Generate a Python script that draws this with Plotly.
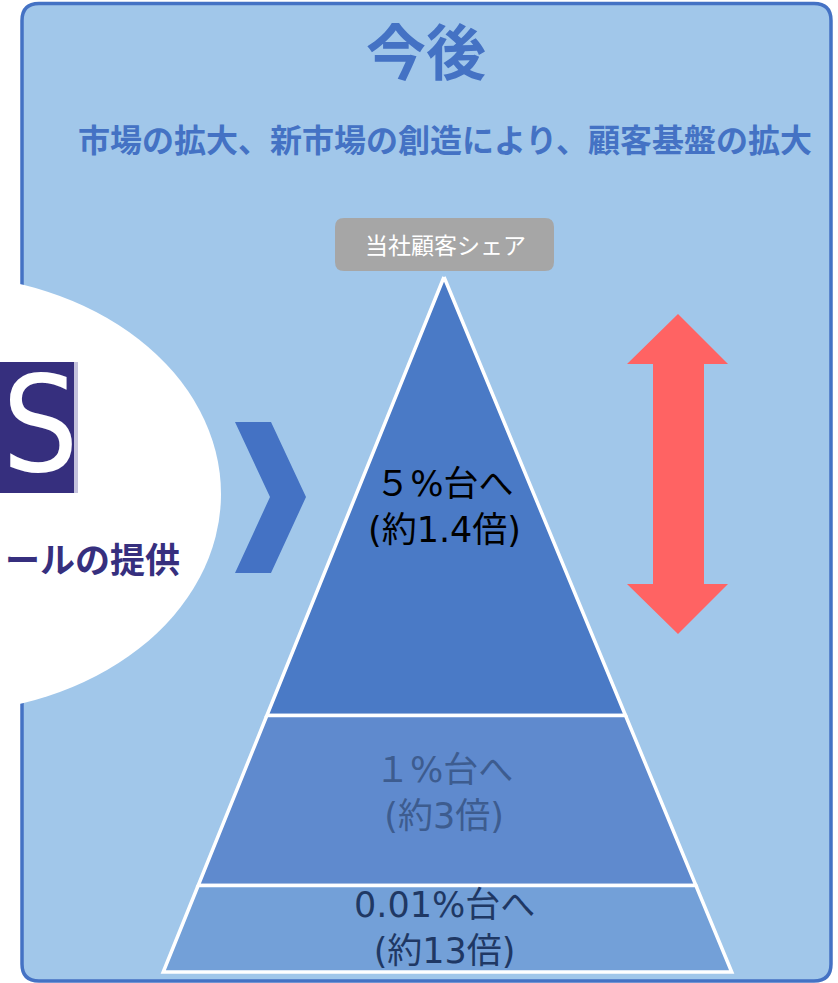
import plotly.graph_objects as go

# ---- content / data ----
title_text = "今後"
subtitle_text = "市場の拡大、新市場の創造により、顧客基盤の拡大"
share_label = "当社顧客シェア"
tier_targets = ["５%台へ", "１%台へ", "0.01%台へ"]
tier_multipliers = ["(約1.4倍)", "(約3倍)", "(約13倍)"]
tier_colors = ["#4A7AC6", "#5F8ACE", "#73A0D8"]
tier_text_colors = ["#000000", "#3D5C8F", "#1F3864"]
left_caption = "ールの提供"
logo_letter = "S"

W, H = 838, 983
BLUE = "#4472C4"
PANEL = "#A1C7EA"
NAVY = "#362F7E"
JP = "Noto Sans CJK JP, Noto Sans, sans-serif"
MIX = "DejaVu Sans, Noto Sans CJK JP, sans-serif"


def rrect(x0, y0, x1, y1, r):
    return (f"M{x0+r},{y0} L{x1-r},{y0} Q{x1},{y0} {x1},{y0+r} "
            f"L{x1},{y1-r} Q{x1},{y1} {x1-r},{y1} L{x0+r},{y1} "
            f"Q{x0},{y1} {x0},{y1-r} L{x0},{y0+r} Q{x0},{y0} {x0+r},{y0} Z")


def poly(pts):
    return "M" + " L".join(f"{x},{y}" for x, y in pts) + " Z"


shapes = []
# panel
shapes.append(dict(type="path", path=rrect(22, 3.5, 831, 981, 17),
                   fillcolor=PANEL, line=dict(color=BLUE, width=3.5), layer="below"))
# white ellipse on the left
shapes.append(dict(type="circle", x0=-341, x1=221, y0=275, y1=713,
                   fillcolor="white", line=dict(width=0), layer="below"))
# logo block
shapes.append(dict(type="rect", x0=-10, x1=74, y0=362, y1=493,
                   fillcolor=NAVY, line=dict(width=0), layer="below"))
shapes.append(dict(type="rect", x0=74, x1=78, y0=362, y1=493,
                   fillcolor="#C4C2DC", line=dict(width=0), layer="below"))
# chevron
shapes.append(dict(type="path",
                   path=poly([(235, 422), (271, 422), (306, 497), (271, 573), (235, 573), (270, 497)]),
                   fillcolor=BLUE, line=dict(width=0), layer="below"))
# label box
shapes.append(dict(type="path", path=rrect(335, 218, 554, 271, 9),
                   fillcolor="#A6A6A6", line=dict(width=0), layer="below"))
# red double arrow
shapes.append(dict(type="path",
                   path=poly([(678, 314), (728, 364), (704, 364), (704, 584), (728, 584), (678, 634),
                              (627, 584), (653, 584), (653, 364), (627, 364)]),
                   fillcolor="#FF6363", line=dict(width=0), layer="below"))

fig = go.Figure()

# pyramid geometry
apex_x, apex_y, base_y = 444, 277, 972
sl, sr = 0.404, 0.414
bounds = [apex_y, 715.5, 885.5, base_y]


def lx(y):
    return apex_x - sl * (y - apex_y)


def rx(y):
    return apex_x + sr * (y - apex_y)


for i in range(3):
    y0, y1 = bounds[i], bounds[i + 1]
    if i == 0:
        xs = [apex_x, rx(y1), lx(y1), apex_x]
        ys = [y0, y1, y1, y0]
    else:
        xs = [lx(y0), rx(y0), rx(y1), lx(y1), lx(y0)]
        ys = [y0, y0, y1, y1, y0]
    fig.add_trace(go.Scatter(x=xs, y=ys, mode="lines", fill="toself",
                             fillcolor=tier_colors[i],
                             line=dict(color="white", width=3.5),
                             hoverinfo="skip", showlegend=False))

annotations = []


def txt(x, y, s, size, color, bold=False, family=JP, xanchor="center"):
    if bold:
        s = f"<b>{s}</b>"
    annotations.append(dict(x=x, y=y, xref="x", yref="y", text=s, showarrow=False,
                            xanchor=xanchor, yanchor="middle",
                            font=dict(size=size, color=color, family=family)))


txt(426, 48, title_text, 60, BLUE, bold=True)
txt(445, 138, subtitle_text, 32, BLUE, bold=True)
txt(445, 244, share_label, 23, "white")
txt(182, 557, left_caption, 35, NAVY, bold=True, xanchor="right")
txt(0, 425, logo_letter, 134, "white",
    family="Liberation Sans Narrow, DejaVu Sans Condensed, Liberation Sans, sans-serif",
    xanchor="left")

tier_centers = [507, 793, 928]
for i in range(3):
    txt(444, tier_centers[i], f"{tier_targets[i]}<br>{tier_multipliers[i]}", 35,
        tier_text_colors[i], family=MIX)

fig.update_layout(
    width=W, height=H, margin=dict(l=0, r=0, t=0, b=0),
    paper_bgcolor="white", plot_bgcolor="white",
    xaxis=dict(range=[0, W], visible=False, fixedrange=True),
    yaxis=dict(range=[H, 0], visible=False, fixedrange=True),
    shapes=shapes, annotations=annotations, showlegend=False,
)

fig.write_html("out.html", config={"displayModeBar": False},
               post_script="document.body.style.margin='0';document.body.style.overflow='hidden';")
